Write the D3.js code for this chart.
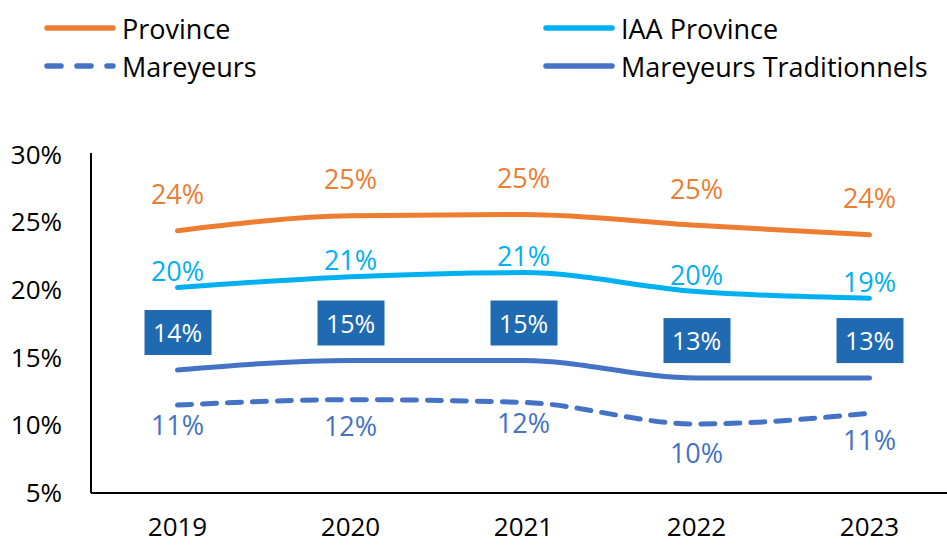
<!DOCTYPE html>
<html><head><meta charset="utf-8">
<script src="https://cdn.jsdelivr.net/npm/d3@7/dist/d3.min.js"></script>
<style>body{margin:0;background:#fff}svg{display:block}text{font-family:"Open Sans",sans-serif}</style>
</head><body>
<svg id="c" width="947" height="545"></svg>
<script>
const years = ["2019","2020","2021","2022","2023"];
const province = [24.4, 25.5, 25.6, 24.8, 24.1];
const iaaProvince = [20.2, 21.0, 21.3, 19.9, 19.4];
const mareyeurs = [11.5, 11.9, 11.7, 10.1, 10.9];
const mareyeursTrad = [14.1, 14.8, 14.8, 13.5, 13.5];
const provinceLabels = ["24%","25%","25%","25%","24%"];
const iaaLabels = ["20%","21%","21%","20%","19%"];
const mareyeursLabels = ["11%","12%","12%","10%","11%"];
const tradLabels = ["14%","15%","15%","13%","13%"];
const yTicks = [5,10,15,20,25,30];
const legendNames = ["Province","IAA Province","Mareyeurs","Mareyeurs Traditionnels"];

const FONT = "Open Sans";
const svg = d3.select("#c");
const x = d3.scaleBand().domain(years).range([91, 956]);
const y = d3.scaleLinear().domain([5,30]).range([493,155]);
const cx = d => x(d) + x.bandwidth()/2;

// axes
const yAxis = svg.append("g").attr("transform","translate(91,0)")
  .call(d3.axisLeft(y).tickValues(yTicks).tickSize(0).tickPadding(29).tickFormat(d=>d+"%"));
yAxis.select(".domain").attr("stroke","#000").attr("stroke-width",2).attr("d","M0,153V493");
yAxis.selectAll("text").attr("font-size",26).attr("fill","#000").attr("font-family",FONT);

const xAxis = svg.append("g").attr("transform","translate(0,493)")
  .call(d3.axisBottom(x).tickSize(0).tickPadding(25));
xAxis.select(".domain").attr("stroke","#000").attr("stroke-width",2).attr("d","M91,0H947");
xAxis.selectAll("text").attr("font-size",26).attr("fill","#000").attr("font-family",FONT);

const line = d3.line().x((d,i)=>cx(years[i])).y(d=>y(d)).curve(d3.curveMonotoneX);

const series = [
  {vals: province, color:"#ED7D31", dash:null},
  {vals: iaaProvince, color:"#00B0F0", dash:null},
  {vals: mareyeursTrad, color:"#4472C4", dash:null},
  {vals: mareyeurs, color:"#4472C4", dash:"14,11"},
];
series.forEach(s=>{
  svg.append("path").attr("d",line(s.vals)).attr("fill","none")
    .attr("stroke",s.color).attr("stroke-width",5).attr("stroke-linecap","round")
    .attr("stroke-dasharray",s.dash);
});

// labels
function labels(vals, texts, color, dy){
  svg.selectAll(null).data(vals).enter().append("text")
    .attr("x",(d,i)=>cx(years[i])).attr("y",(d,i)=>y(d)+dy(i))
    .attr("text-anchor","middle").attr("dominant-baseline","central")
    .attr("font-size",27).attr("fill",color).attr("font-family",FONT)
    .text((d,i)=>texts[i]);
}
labels(province, provinceLabels, "#ED7D31", ()=>-37);
labels(iaaProvince, iaaLabels, "#00B0F0", ()=>-17);
labels(mareyeurs, mareyeursLabels, "#4472C4", i=>[19,26,20,28,26][i]);

// boxed labels
const bg = svg.selectAll(null).data(mareyeursTrad).enter().append("g")
  .attr("transform",(d,i)=>`translate(${cx(years[i])},${y(d)-38})`);
bg.append("rect").attr("x",-33).attr("y",-22).attr("width",67).attr("height",45).attr("fill","#1F6AB1");
bg.append("text").attr("text-anchor","middle").attr("dominant-baseline","central")
  .attr("font-size",25).attr("fill","#fff").attr("font-family",FONT).text((d,i)=>tradLabels[i]);

// legend
const leg = [
  {name:legendNames[0], color:"#ED7D31", dash:null, x:45, y:28},
  {name:legendNames[1], color:"#00B0F0", dash:null, x:544, y:28},
  {name:legendNames[2], color:"#4472C4", dash:"14,16", x:45, y:66},
  {name:legendNames[3], color:"#4472C4", dash:null, x:544, y:66},
];
leg.forEach(l=>{
  svg.append("line").attr("x1",l.x+2).attr("x2",l.x+68).attr("y1",l.y).attr("y2",l.y)
    .attr("stroke",l.color).attr("stroke-width",5.5).attr("stroke-linecap","round").attr("stroke-dasharray",l.dash);
  svg.append("text").attr("x",l.x+77).attr("y",l.y).attr("dominant-baseline","central")
    .attr("font-size",27).attr("fill","#000").attr("font-family",FONT).text(l.name);
});
</script>
</body></html>
